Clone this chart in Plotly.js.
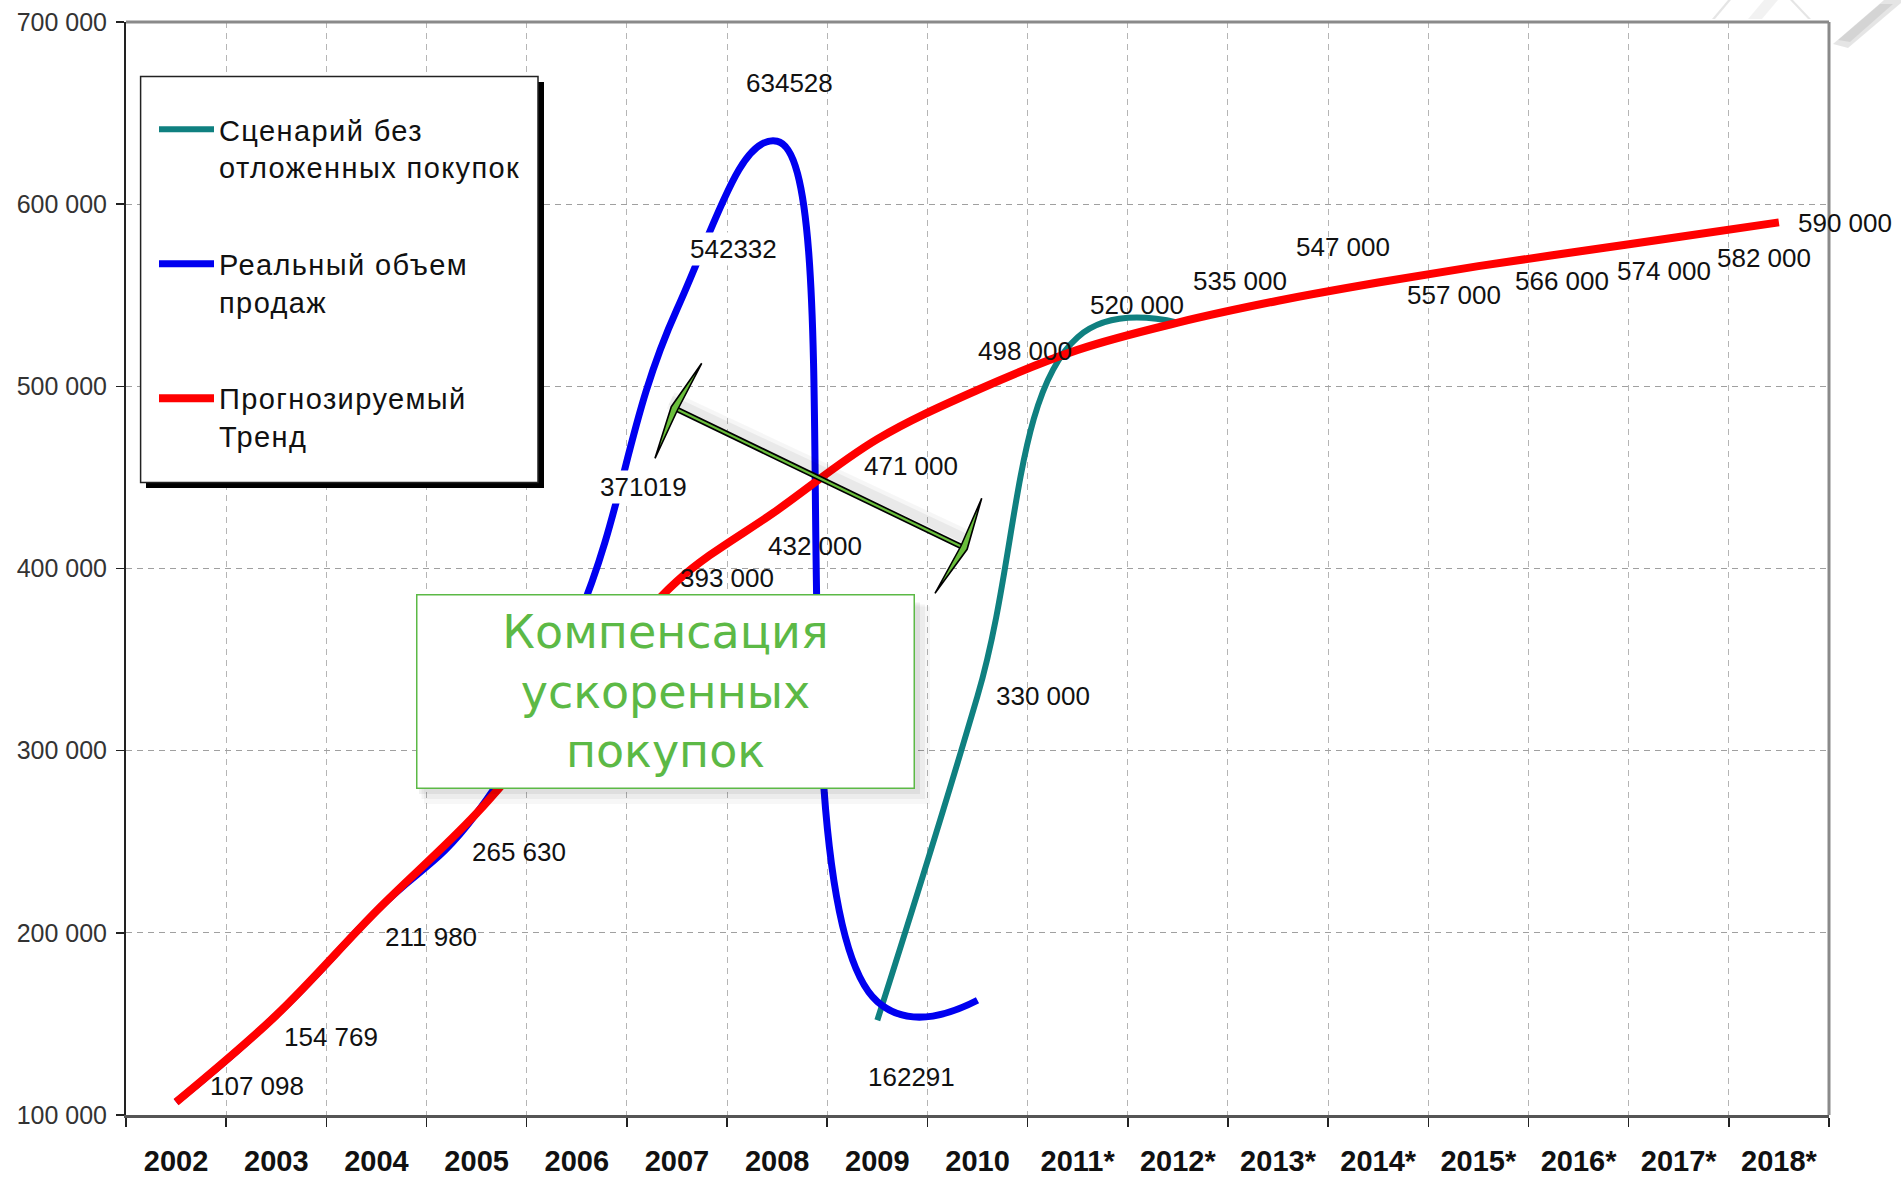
<!DOCTYPE html>
<html><head><meta charset="utf-8">
<script src="https://cdn.plot.ly/plotly-3.0.1.min.js"></script>
<style>
html,body{margin:0;padding:0;background:#fff;}
#chart{width:1901px;height:1182px;}
.legendtext{letter-spacing:1.4px;}
</style>
</head><body><div id="chart"></div>
<script>
// ---------- data ----------
const categories = ['2002','2003','2004','2005','2006','2007','2008','2009','2010','2011*','2012*','2013*','2014*','2015*','2016*','2017*','2018*'];
const trendValues = [107098,154769,211980,265630,330000,393000,432000,471000,498000,520000,535000,547000,557000,566000,574000,582000,590000];
const realValues = [107098,154769,211980,265630,371019,542332,634528,162291,163000,null,null,null,null,null,null,null,null];
const scenarioValues = [null,null,null,null,null,null,null,152000,330000,527000,535000,null,null,null,null,null,null];
const seriesNames = ['Сценарий без<br>отложенных покупок','Реальный объем<br>продаж','Прогнозируемый<br>Тренд'];
const yTickValues = [100000,200000,300000,400000,500000,600000,700000];
const boxText = 'Компенсация<br>ускоренных<br>покупок';

// which points carry a visible value label (index lists)
const trendLabelIdx = [0,1,2,3,5,6,7,8,9,10,11,12,13,14,15,16];
const realLabelIdx = [4,5,6,7];
const scenarioLabelIdx = [8];

// ---------- label placement (style, pixels: dx right, dy down) ----------
const trendLabelOffset = {0:[81,-16],1:[55,22],2:[55,26],3:[42,39],5:[50,-3],6:[38,36],7:[34,27],8:[47,-39],9:[59,-45],10:[62,-42],11:[65,-54],12:[76,12],13:[84,15],14:[85,19],15:[85,21],16:[66,1]};
const realLabelOffset = {4:[67,-134],5:[57,-60],6:[12,-58],7:[34,75]};
const realLabelBg = {4:'#ffffff',5:'#ffffff'};
const scenarioLabelOffset = {8:[65,0]};

// ---------- geometry helpers (plot area in page pixels) ----------
const L = 126, R = 1829, T = 22, B = 1115;
const W = R - L, H = B - T;
const px = x => (x - L) / W;
const py = y => 1 - (y - T) / H;

const fmtSpace = v => String(v).replace(/\B(?=(\d{3})+(?!\d))/g, ' ');
const fmtPlain = v => String(v);

const FONT = 'Liberation Sans, Arial, sans-serif';

const traces = [
  {x: categories, y: scenarioValues, name: seriesNames[0], type: 'scatter', mode: 'lines',
   line: {color: '#0f8080', width: 6, shape: 'spline', smoothing: 1.2}, connectgaps: false,
   legendgroup: 'a'},
  {x: categories, y: realValues, name: seriesNames[1], type: 'scatter', mode: 'lines',
   line: {color: '#0000f0', width: 7, shape: 'spline', smoothing: 1.3}, connectgaps: false,
   legendgroup: 'b'},
  {x: categories, y: trendValues, name: seriesNames[2], type: 'scatter', mode: 'lines',
   line: {color: '#ff0000', width: 8, shape: 'spline', smoothing: 1},
   legendgroup: 'c'}
];

const annotations = [];
function addLabels(idxs, values, offsets, fmt, bgs) {
  idxs.forEach(i => {
    const o = offsets[i] || [0, 0];
    annotations.push({
      x: i, y: values[i], xref: 'x', yref: 'y', showarrow: false,
      text: fmt(values[i]), xanchor: 'center', yanchor: 'middle',
      xshift: o[0], yshift: -o[1],
      font: {family: FONT, size: 26, color: '#111'},
      bgcolor: (bgs && bgs[i]) || 'rgba(0,0,0,0)', borderpad: 1
    });
  });
}
addLabels(trendLabelIdx, trendValues, trendLabelOffset, fmtSpace);
addLabels(realLabelIdx, realValues, realLabelOffset, fmtPlain, realLabelBg);
addLabels(scenarioLabelIdx, scenarioValues, scenarioLabelOffset, fmtSpace);

// green box (drawn last so it covers lines)
annotations.push({
  xref: 'paper', yref: 'paper', x: px(665), y: py(691), xanchor: 'center', yanchor: 'middle',
  showarrow: false, text: boxText, align: 'center',
  font: {family: 'DejaVu Sans, Verdana, sans-serif', size: 46, color: '#5cb946'},
  bgcolor: '#ffffff', bordercolor: '#5cb946', borderwidth: 1.5, borderpad: 1,
  width: 494, height: 190
});

const shapes = [];
// top-right slide decoration
const deco = [
  {path: [[1712,19],[1728,0],[1731,0],[1715,19]], fill: 'rgba(0,0,0,0.10)'},
  {path: [[1748,19],[1764,0],[1778,0],[1762,19]], fill: 'rgba(0,0,0,0.05)'},
  {path: [[1790,0],[1808,19],[1811,19],[1793,0]], fill: 'rgba(0,0,0,0.10)'},
  {path: [[1833,44],[1884,0],[1901,0],[1901,3],[1848,48]], fill: 'rgba(0,0,0,0.10)'},
  {path: [[1838,40],[1880,4],[1893,4],[1850,42]], fill: 'rgba(0,0,0,0.07)'}
];
deco.forEach(d => {
  shapes.push({type: 'path', xref: 'paper', yref: 'paper',
    path: 'M' + d.path.map(p => px(p[0]).toFixed(5) + ',' + py(p[1]).toFixed(5)).join(' L') + ' Z',
    fillcolor: d.fill, line: {width: 0}, layer: 'above'});
});
// legend shadow + box
shapes.push({type: 'rect', xref: 'paper', yref: 'paper', x0: px(146), x1: px(544), y0: py(82), y1: py(488),
  fillcolor: '#000', line: {width: 0}, layer: 'above'});
shapes.push({type: 'rect', xref: 'paper', yref: 'paper', x0: px(140.6), x1: px(538), y0: py(76.4), y1: py(482.5),
  fillcolor: '#fff', line: {color: '#222', width: 1.5}, layer: 'above'});
// green box soft shadow
[[16,0.03],[11,0.045],[6,0.06]].forEach(([d, a]) => {
  shapes.push({type: 'rect', xref: 'paper', yref: 'paper', x0: px(416 + d * 0.5), x1: px(914 + d), y0: py(600 + d * 0.4), y1: py(788 + d),
    fillcolor: 'rgba(0,0,0,' + a + ')', line: {width: 0}, layer: 'above'});
});
// frame top & right
shapes.push({type: 'line', xref: 'paper', yref: 'paper', x0: 0, x1: 1, y0: 1, y1: 1, line: {color: '#8a8a8a', width: 3}, layer: 'above'});
shapes.push({type: 'line', xref: 'paper', yref: 'paper', x0: 1, x1: 1, y0: 0, y1: 1, line: {color: '#8a8a8a', width: 3}, layer: 'above'});

// double arrow
const aL = [676.7, 409.3], aR = [961.7, 546.7];
const ux = (aR[0] - aL[0]), uy = (aR[1] - aL[1]);
const ulen = Math.hypot(ux, uy), u = [ux / ulen, uy / ulen];
const P = p => px(p[0]).toFixed(5) + ',' + py(p[1]).toFixed(5);
[[18,0.035],[10,0.05]].forEach(([w, a]) => {
  shapes.push({type: 'line', xref: 'paper', yref: 'paper', x0: px(aL[0] - 6), y0: py(aL[1] - 9), x1: px(aR[0] + 2), y1: py(aR[1] - 9),
    line: {color: 'rgba(0,0,0,' + a + ')', width: w}, layer: 'above'});
});
shapes.push({type: 'line', xref: 'paper', yref: 'paper', x0: px(aL[0]), y0: py(aL[1]), x1: px(aR[0]), y1: py(aR[1]),
  line: {color: '#000', width: 5.5}, layer: 'above'});
shapes.push({type: 'line', xref: 'paper', yref: 'paper', x0: px(aL[0]), y0: py(aL[1]), x1: px(aR[0]), y1: py(aR[1]),
  line: {color: '#6abf3c', width: 2.2}, layer: 'above'});
function head(j, t1, t2, dir) {
  const o = [j[0] - dir * 6 * u[0], j[1] - dir * 6 * u[1]];
  const b = [j[0] + dir * 1 * u[0], j[1] + dir * 1 * u[1]];
  return {type: 'path', xref: 'paper', yref: 'paper',
    path: 'M' + P(t1) + ' L' + P(o) + ' L' + P(t2) + ' L' + P(b) + ' Z',
    fillcolor: '#6abf3c', line: {color: '#000', width: 1.6}, layer: 'above'};
}
shapes.push(head(aL, [701.7, 363.3], [655, 458.3], 1));
shapes.push(head(aR, [981.7, 498.3], [935, 593.3], -1));

const layout = {
  width: 1901, height: 1182,
  margin: {l: L, r: 1901 - R, t: T, b: 1182 - B, autoexpand: false},
  paper_bgcolor: '#fff', plot_bgcolor: '#fff',
  separators: '. ',
  showlegend: true,
  legend: {x: px(154), y: py(104), xanchor: 'left', yanchor: 'top', bgcolor: 'rgba(0,0,0,0)', borderwidth: 0,
    font: {family: FONT, size: 29, color: '#111'}, itemwidth: 55, valign: 'top', tracegroupgap: 56,
    traceorder: 'grouped'},
  xaxis: {type: 'category', range: [-0.5, 16.5], tickson: 'boundaries', ticks: 'outside', ticklen: 9,
    tickwidth: 1.5, tickcolor: '#222', showline: true, linecolor: '#555', linewidth: 2.5,
    showgrid: true, gridcolor: '#b5b5b5', gridwidth: 1, griddash: '6px,5px', zeroline: false,
    tickfont: {family: FONT, size: 29, color: '#111', weight: 'bold'}, ticklabelstandoff: 19, fixedrange: true},
  yaxis: {range: [100000, 700000], tickvals: yTickValues, tickformat: ',d', ticks: 'outside', ticklen: 8,
    tickwidth: 1.5, tickcolor: '#222', showline: true, linecolor: '#222', linewidth: 2,
    showgrid: true, gridcolor: '#a0a0a0', gridwidth: 1, griddash: '6px,5px', zeroline: false,
    tickfont: {family: FONT, size: 25, color: '#333'}, ticklabelstandoff: 4, fixedrange: true},
  shapes: shapes,
  annotations: annotations
};

Plotly.newPlot('chart', traces, layout, {displayModeBar: false, staticPlot: true});
</script>
</body></html>
